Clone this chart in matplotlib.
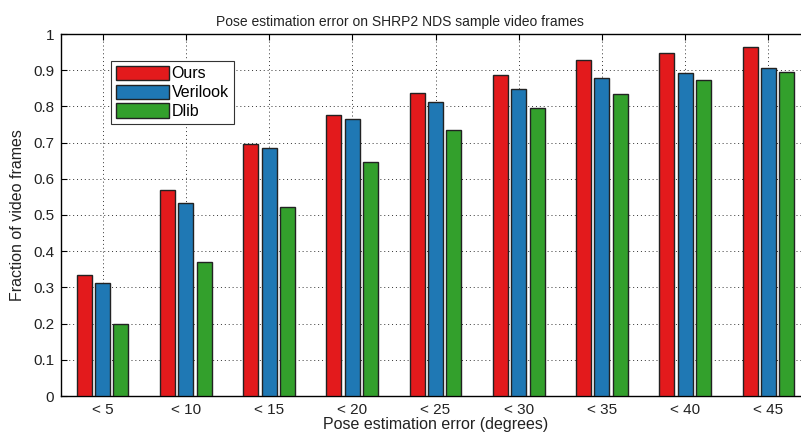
import numpy as np
import matplotlib
matplotlib.use("Agg")
import matplotlib.pyplot as plt

plt.rcParams['font.family'] = ['Liberation Sans', 'DejaVu Sans']

# categorias y valores
categories = ["< 5", "< 10", "< 15", "< 20", "< 25", "< 30", "< 35", "< 40", "< 45"]
ours = [0.334, 0.568, 0.697, 0.775, 0.838, 0.887, 0.927, 0.947, 0.965]
verilook = [0.311, 0.534, 0.685, 0.766, 0.812, 0.849, 0.878, 0.892, 0.907]
dlib = [0.199, 0.371, 0.522, 0.646, 0.735, 0.795, 0.835, 0.872, 0.895]
series_names = ["Ours", "Verilook", "Dlib"]
colors = ["#E31A1C", "#1F78B4", "#33A02C"]

fig = plt.figure(figsize=(8.01, 4.41), dpi=100)
ax = fig.add_axes([61 / 801, 45 / 441, 749 / 801, 362 / 441])

x = np.arange(1, len(categories) + 1)
offset = 0.22
width = 0.18
for k, (vals, name) in enumerate(zip([ours, verilook, dlib], series_names)):
    ax.bar(x + (k - 1) * offset, vals, width, color=colors[k], edgecolor="#222222",
           linewidth=1.0, label=name, zorder=3)

ax.set_xlim(0.5, 9.5)
ax.set_ylim(0, 1)
ax.set_xticks(x)
ax.set_xticklabels(categories)
ax.set_yticks(np.arange(0, 1.01, 0.1))
ax.set_yticklabels(["0", "0.1", "0.2", "0.3", "0.4", "0.5", "0.6", "0.7", "0.8", "0.9", "1"])
ax.tick_params(direction="in", top=True, right=True, labelsize=11, length=4,
               colors="black", labelcolor="#222222", pad=5)
ax.grid(True, linestyle=(0, (1, 3)), color="#333333", linewidth=0.7, zorder=0)
ax.set_axisbelow(True)
for s in ax.spines.values():
    s.set_linewidth(1.0)

# el titulo esta centrado en x ~ 400 px de la figura
ax.set_title("Pose estimation error on SHRP2 NDS sample video frames", fontsize=10,
             pad=6, color="#222222", x=(400 - 61) / 749)
ax.set_xlabel("Pose estimation error (degrees)", fontsize=11.5, labelpad=0, color="#222222")
ax.set_ylabel("Fraction of video frames", fontsize=11.5, labelpad=6, color="#222222")

leg = ax.legend(loc="upper left", bbox_to_anchor=(50 / 749, 1 - 27 / 362), fontsize=11.5,
                fancybox=False, framealpha=1, edgecolor="#333333", borderpad=0.3,
                handlelength=3.3, handleheight=1.0, handletextpad=0.2, labelspacing=0.2,
                borderaxespad=0)
leg.get_frame().set_linewidth(0.8)

fig.savefig("out.png", dpi=100)
